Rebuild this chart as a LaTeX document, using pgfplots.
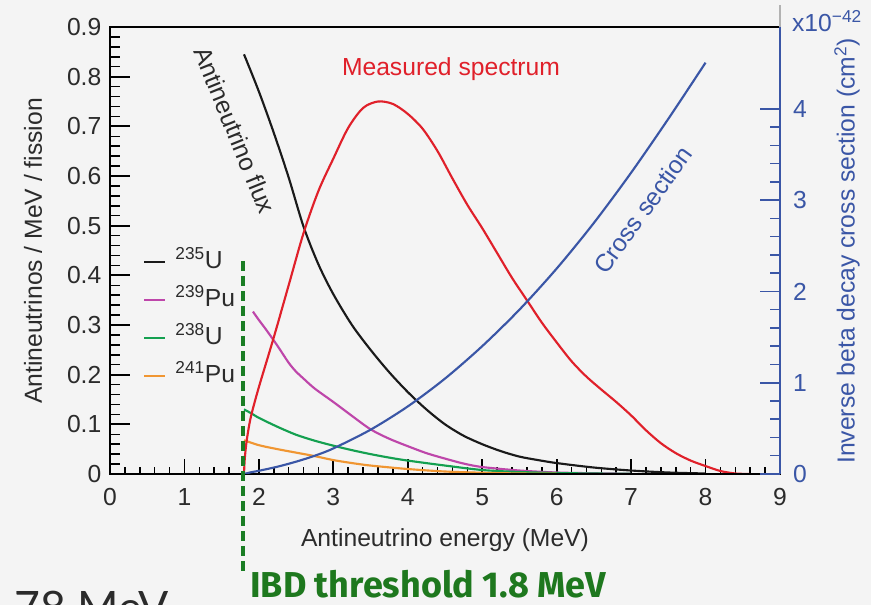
\documentclass[border=0pt]{standalone}
\usepackage{fontspec}
\setmainfont{Liberation Sans}
\newfontfamily\fira{Fira Sans}
\newfontfamily\lato{Lato}
\usepackage{pgfplots}
\pgfplotsset{compat=1.18}
\definecolor{bg}{HTML}{F4F4F4}
\definecolor{tickgray}{HTML}{2B2B2B}
\definecolor{csblue}{HTML}{3A56A6}
\definecolor{cu235}{HTML}{1A1A1A}
\definecolor{cpu239}{HTML}{BE46AA}
\definecolor{cu238}{HTML}{14A050}
\definecolor{cpu241}{HTML}{F09632}
\definecolor{cred}{HTML}{E0202A}
\definecolor{thrgreen}{HTML}{1A7D24}
\definecolor{ibdgreen}{HTML}{1E781E}
\newcommand{\lbl}{\fontsize{18.5}{22}\selectfont}
\begin{document}
\begin{tikzpicture}
\clip (0,0) rectangle (653.25pt,453.75pt);
\fill[bg] (0,0) rectangle (653.25pt,453.75pt);
\pgfplotsset{common/.style={width=502.5pt,height=335.25pt,scale only axis,
  at={(82.5pt,98.25pt)},anchor=south west,xmin=0,xmax=9,
  /pgf/number format/assume math mode=true,
  tick label style={font=\lbl, text=tickgray},
  tick align=inside}}
% x axis (box) and left-axis curves
\begin{axis}[common, ymin=0, ymax=0.9,
  xtick={0,1,2,3,4,5,6,7,8,9}, minor x tick num=4, xtick pos=bottom,
  ytick=\empty,
  major tick length=11pt, minor tick length=5pt,
  xticklabel style={yshift=-7.5pt},
  axis line style={black, line width=1.1pt},
  major tick style={draw=black, line width=1.3pt},
  minor tick style={draw=black, line width=1.1pt},
  legend style={at={(axis cs:0.39,0.455)}, anchor=north west, draw=none, fill=none,
    font=\lbl, row sep=12pt, column sep=6.75pt,
    nodes={inner sep=0pt, text height=13pt, text depth=3.5pt, text=tickgray}},
  legend cell align=left,
  legend image code/.code={\draw[#1, line width=1.6pt] (0pt,0pt) -- (15.75pt,0pt);}]
\addplot[cu235, line width=1.6pt, smooth] coordinates {
(1.8,0.845)(2.0,0.77)(2.2,0.687)(2.4,0.597)(2.6,0.498)(2.8,0.422)(3.0,0.362)
(3.25,0.30)(3.5,0.25)(3.75,0.205)(4.0,0.165)(4.25,0.13)(4.5,0.10)(4.75,0.077)(5.0,0.06)
(5.25,0.046)(5.5,0.035)(5.75,0.028)(6.0,0.022)(6.5,0.013)(7.0,0.007)(7.5,0.003)(8.0,0.001)};
\addlegendentry{\textsuperscript{235}U}
\addplot[cpu239, line width=1.6pt, smooth] coordinates {
(1.92,0.327)(2.0,0.31)(2.1,0.29)(2.25,0.258)(2.4,0.224)(2.5,0.206)(2.6,0.192)(2.75,0.172)(3.0,0.145)
(3.25,0.117)(3.5,0.09)(3.75,0.071)(4.0,0.056)(4.25,0.042)(4.5,0.031)(4.75,0.021)(5.0,0.014)
(5.5,0.007)(6.0,0.003)(6.5,0.0015)(7.0,0.0005)};
\addlegendentry{\textsuperscript{239}Pu}
\addplot[cu238, line width=1.6pt, smooth] coordinates {
(1.8,0.13)(1.9,0.122)(2.0,0.113)(2.25,0.095)(2.5,0.079)(2.75,0.067)(3.0,0.057)(3.25,0.048)
(3.5,0.04)(3.75,0.033)(4.0,0.027)(4.5,0.017)(5.0,0.008)(5.5,0.004)(6.0,0.002)(6.5,0.001)(7.0,0.0005)};
\addlegendentry{\textsuperscript{238}U}
\addplot[cpu241, line width=1.6pt, smooth] coordinates {
(1.8,0.068)(2.0,0.058)(2.25,0.05)(2.5,0.043)(2.75,0.036)(3.0,0.028)(3.25,0.022)(3.5,0.017)
(4.0,0.01)(4.5,0.005)(5.0,0.0025)(5.5,0.001)(6.0,0.0005)};
\addlegendentry{\textsuperscript{241}Pu}
\addplot[cred, line width=1.6pt, smooth, forget plot] coordinates {
(1.8,0)(1.81,0.03)(1.83,0.06)(1.86,0.09)(1.9,0.12)(2.0,0.175)(2.2,0.275)(2.4,0.38)(2.6,0.485)
(2.8,0.57)(3.0,0.635)(3.2,0.697)(3.4,0.737)(3.6,0.75)(3.8,0.745)(4.0,0.725)(4.2,0.695)
(4.4,0.65)(4.6,0.595)(4.8,0.542)(5.0,0.495)(5.2,0.445)(5.4,0.395)(5.6,0.35)(5.8,0.305)
(6.0,0.265)(6.2,0.227)(6.4,0.196)(6.6,0.17)(6.8,0.145)(7.0,0.118)(7.2,0.088)(7.4,0.062)
(7.6,0.042)(7.8,0.027)(8.0,0.016)(8.2,0.006)(8.4,0.001)(8.6,0)};
\end{axis}
% left y axis (box, y ticks on the left only)
\begin{axis}[common, ymin=0, ymax=0.9,
  xtick=\empty, ytick pos=left,
  ytick={0,0.1,0.2,0.3,0.4,0.5,0.6,0.7,0.8,0.9}, minor y tick num=4,
  major tick length=15pt, minor tick length=7.5pt,
  yticklabel style={xshift=-3pt},
  axis line style={black, line width=1.1pt},
  major tick style={draw=black, line width=1.3pt},
  minor tick style={draw=black, line width=1.1pt}]
\end{axis}
% right y axis (box without lines, y ticks on the right only)
\begin{axis}[common, ymin=0, ymax=4.896,
  xtick=\empty, ytick pos=right,
  ytick={0,1,2,3,4}, minor y tick num=4,
  major tick length=15pt, minor tick length=7.5pt,
  yticklabel style={text=csblue, xshift=6.4pt},
  axis line style={draw=none},
  major tick style={draw=csblue, line width=1.3pt},
  minor tick style={draw=csblue, line width=1.1pt}]
\addplot[csblue, line width=1.6pt, smooth] coordinates {
(1.8,0)(1.9,0.02)(2.0,0.035)(2.25,0.08)(2.5,0.135)(2.75,0.2)(3.0,0.28)(3.5,0.485)
(4.0,0.74)(4.5,1.045)(5.0,1.40)(5.5,1.80)(6.0,2.25)(6.5,2.75)(7.0,3.30)(7.5,3.89)(8.0,4.505)};
\end{axis}
% annotations in image pixel coordinates
\begin{scope}[x=0.75pt,y=-0.75pt,shift={(0pt,453.75pt)}]
\draw[black, line width=1.6pt] (110,27) -- (780,27);
\draw[csblue, line width=1.1pt] (780,474) -- (780,27);
\draw[gray!60, line width=1pt] (780,27) -- (780,5);
\draw[thrgreen, line width=3pt, dash pattern=on 7.5pt off 3.75pt] (243.3,261) -- (243.3,574);
\node[cred, font=\lbl] at (451,69) {Measured spectrum};
\node[tickgray, font=\lbl, rotate=-68] at (235,130) {Antineutrino flux};
\node[csblue, font=\lbl, rotate=54] at (643,210) {Cross section};
\node[csblue, font=\lbl, rotate=90] at (847,251) {Inverse beta decay cross section (cm\textsuperscript{2})};
\node[tickgray, font=\lbl, rotate=90] at (33,251) {Antineutrinos / MeV / fission};
\node[tickgray, font=\lbl] at (445,540) {Antineutrino energy (MeV)};
\node[csblue, font=\lbl] at (827,21) {x10\textsuperscript{−42}};
\node[ibdgreen, font=\fira\bfseries\fontsize{27}{30}\selectfont, anchor=base west, inner sep=0pt] at (250,598) {IBD threshold 1.8 MeV};
\node[tickgray, font=\lato\fontsize{33.5}{40}\selectfont, anchor=base west, inner sep=0pt] at (14,624) {78 MeV};
\end{scope}
\end{tikzpicture}
\end{document}
